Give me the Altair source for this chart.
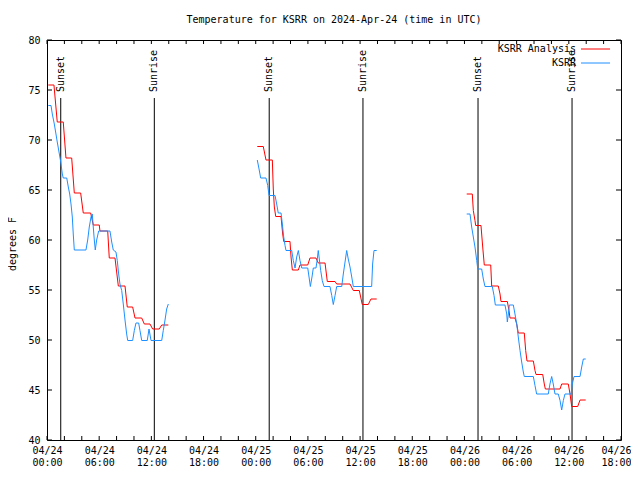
import altair as alt
import pandas as pd

FONT = "DejaVu Sans Mono"
TITLE = "Temperature for KSRR on 2024-Apr-24 (time in UTC)"
Y_TITLE = "degrees F"

# hours since 2024-04-24 00:00 UTC
ANA_H1 = [0.15, 0.80, 1.18, 1.87, 2.18, 2.84, 3.14, 3.87, 4.17, 5.02, 5.32, 6.01, 6.09, 6.98,
          7.16, 7.82, 8.20, 8.97, 9.23, 9.85, 10.12, 10.89, 11.19, 11.84, 12.15, 12.91, 13.19, 13.95]
ANA_T1 = [75.5, 75.5, 71.8, 71.8, 68.2, 68.2, 64.7, 64.7, 62.7, 62.7, 61.5, 61.5, 60.9, 60.9,
          58.2, 58.2, 55.4, 55.4, 53.3, 53.3, 52.2, 52.2, 51.6, 51.6, 51.1, 51.1, 51.5, 51.5]
ANA_H2 = [24.18, 24.87, 25.18, 25.91, 26.02, 26.14, 26.30, 26.91, 26.99, 27.10, 27.22, 27.94, 28.06,
          28.21, 28.90, 29.09, 29.98, 30.24, 30.93, 31.19, 31.97, 32.23, 33.12, 33.31, 34.84, 35.22,
          35.91, 36.25, 36.94, 37.25, 37.91]
ANA_T2 = [69.35, 69.35, 68.0, 68.0, 65.1, 63.3, 62.35, 62.35, 61.6, 60.6, 59.85, 59.85, 58.3,
          57.0, 57.0, 57.5, 57.5, 58.2, 58.2, 57.7, 57.7, 55.85, 55.85, 55.6, 55.6, 54.95,
          54.95, 53.55, 53.55, 54.1, 54.1]
ANA_H3 = [48.26, 48.90, 49.02, 49.21, 49.29, 49.90, 50.10, 50.28, 51.02, 51.13, 51.89, 52.09, 52.20,
          52.93, 53.12, 53.24, 53.81, 54.01, 54.19, 54.88, 55.04, 55.19, 55.92, 56.11, 56.23, 57.00,
          57.18, 57.30, 58.99, 59.18, 59.94, 60.14, 60.33, 61.02, 61.29, 61.94]
ANA_T3 = [64.6, 64.6, 62.95, 61.95, 61.45, 61.45, 59.3, 57.5, 57.5, 55.4, 55.4, 54.6, 53.85,
          53.85, 52.95, 52.2, 52.2, 51.6, 50.7, 50.7, 48.95, 47.9, 47.9, 46.95, 46.55, 46.55,
          45.6, 45.1, 45.1, 45.6, 45.6, 44.6, 43.35, 43.35, 44.0, 44.0]

OBS_H1 = [0.15, 0.46, 0.61, 0.84, 1.03, 1.18, 1.38, 1.58, 1.76, 1.87, 2.27, 2.45, 2.61, 2.76, 2.91,
          3.02, 3.14, 4.48, 4.68, 4.86, 5.06, 5.21, 5.32, 5.44, 5.55, 5.71, 5.94, 7.24, 7.44, 7.62,
          7.93, 8.08, 8.24, 8.39, 8.59, 8.77, 8.97, 9.16, 9.28, 9.85, 10.04, 10.23, 10.54, 10.69,
          10.89, 11.53, 11.73, 11.96, 13.19, 13.37, 13.57, 13.76, 13.95]
OBS_T1 = [73.45, 73.45, 72.6, 71.6, 70.6, 69.8, 68.8, 67.8, 66.6, 66.2, 66.2, 65.3, 64.6, 63.6, 62.3,
          60.6, 59.0, 59.0, 60.0, 61.3, 62.3, 62.6, 61.3, 60.0, 59.0, 60.0, 60.9, 60.9, 59.8, 59.0,
          58.8, 57.95, 56.6, 55.6, 54.95, 53.6, 52.0, 50.6, 49.95, 49.95, 50.95, 51.7, 51.7, 50.95,
          49.95, 49.95, 51.1, 49.95, 49.95, 50.95, 52.0, 53.1, 53.6]
OBS_H2 = [24.18, 24.38, 24.57, 25.18, 25.38, 25.53, 26.22, 26.41, 26.59, 26.91, 27.06, 27.22, 27.37,
          27.48, 28.14, 28.32, 28.52, 28.71, 28.90, 29.09, 29.29, 29.98, 30.13, 30.28, 30.47, 30.62,
          30.93, 31.08, 31.19, 31.31, 31.47, 31.65, 31.85, 32.54, 32.74, 32.92, 33.12, 33.31, 33.89,
          34.07, 34.27, 34.46, 34.64, 34.84, 35.04, 35.22, 37.33, 37.44, 37.60, 37.91]
OBS_T2 = [68.0, 67.1, 66.2, 66.2, 65.45, 64.45, 64.45, 63.6, 62.7, 62.7, 61.6, 60.3, 59.45,
          58.95, 58.95, 57.95, 57.2, 58.3, 58.95, 57.95, 57.2, 57.2, 56.3, 55.35, 56.3, 57.2,
          57.2, 58.1, 58.95, 58.1, 56.95, 55.95, 55.35, 55.35, 54.45, 53.55, 54.45, 55.35, 55.35,
          56.6, 57.8, 58.95, 58.1, 57.3, 56.3, 55.35, 55.35, 57.6, 58.95, 58.95]
OBS_H3 = [48.26, 48.64, 48.83, 49.02, 49.21, 49.41, 49.53, 49.98, 50.17, 50.36, 51.20, 51.40, 51.55,
          52.66, 52.86, 52.93, 53.05, 53.16, 53.62, 53.81, 54.01, 54.19, 54.39, 54.58, 54.77, 54.88,
          55.92, 56.11, 56.30, 57.64, 57.83, 58.03, 58.21, 58.41, 58.79, 58.99, 59.18, 59.37, 59.56,
          60.25, 60.40, 60.60, 61.29, 61.48, 61.67, 61.94]
OBS_T3 = [62.6, 62.6, 61.3, 60.3, 59.3, 57.95, 57.1, 57.1, 56.1, 55.35, 55.35, 54.45, 53.5,
          53.5, 52.6, 51.8, 52.6, 53.5, 53.5, 52.6, 51.6, 50.3, 48.95, 47.8, 46.8, 46.35,
          46.35, 45.45, 44.6, 44.6, 45.6, 46.35, 45.6, 44.6, 44.6, 43.95, 43.0, 43.95, 44.6,
          44.6, 45.6, 46.35, 46.35, 47.3, 48.1, 48.1]

SUN_H = [1.58, 12.34, 25.55, 36.33, 49.56, 60.37]
SUN_LABEL = ["Sunset", "Sunrise", "Sunset", "Sunrise", "Sunset", "Sunrise"]
SUN_LINE_TOP = 74.2
SUN_TEXT_Y = 74.8

X_TICKS = list(range(0, 67, 2))
X_LABELS = list(range(0, 67, 6))
Y_TICKS = list(range(40, 81, 5))

W, H = 574, 400


def series_df(pairs):
    rows = []
    for seg, (hs, ts) in enumerate(pairs):
        for h, t in zip(hs, ts):
            rows.append({"h": h, "T": t, "seg": seg})
    return pd.DataFrame(rows)


ana = series_df([(ANA_H1, ANA_T1), (ANA_H2, ANA_T2), (ANA_H3, ANA_T3)])
obs = series_df([(OBS_H1, OBS_T1), (OBS_H2, OBS_T2), (OBS_H3, OBS_T3)])
sun = pd.DataFrame({"h": SUN_H, "label": SUN_LABEL, "lo": 40.0,
                    "hi": SUN_LINE_TOP, "ty": SUN_TEXT_Y})

XS = alt.Scale(domain=[0, 66], nice=False, zero=False)
YS = alt.Scale(domain=[40, 80], nice=False, zero=False)

X_AXIS = alt.Axis(values=X_LABELS, tickSize=0, domain=False, grid=False, title=None,
                  labelExpr="['04/' + (24 + floor(datum.value / 24)), format(datum.value % 24, '02d') + ':00']",
                  labelFont=FONT, labelFontSize=10, labelColor="black", labelPadding=5,
                  labelLineHeight=12.5, labelBaseline="top", labelFlush=False, labelOverlap=False,
                  labelAlign={"condition": {"test": "datum.value >= 66", "value": "right"},
                              "value": "center"},
                  labelOffset={"condition": {"test": "datum.value >= 66", "value": 10},
                               "value": 0})
Y_AXIS = alt.Axis(values=Y_TICKS, tickSize=0, domain=False, grid=False, title=None,
                  labelFont=FONT, labelFontSize=10, labelColor="black", labelPadding=7)

x_enc = alt.X("h:Q", scale=XS, axis=X_AXIS)

sun_lines = alt.Chart(sun).mark_rule(color="black", strokeWidth=1).encode(
    x=x_enc, y=alt.Y("lo:Q", scale=YS, axis=Y_AXIS), y2="hi:Q")
sun_text = alt.Chart(sun).mark_text(angle=270, align="left", baseline="middle",
                                    font=FONT, fontSize=10, color="black").encode(
    x=x_enc, y=alt.Y("ty:Q", scale=YS, axis=Y_AXIS), text="label:N")

red = alt.Chart(ana).mark_line(color="#ff0000", strokeWidth=1).encode(
    x=x_enc, y=alt.Y("T:Q", scale=YS, axis=Y_AXIS), detail="seg:N")
blue = alt.Chart(obs).mark_line(color="#1e90ff", strokeWidth=1).encode(
    x=x_enc, y=alt.Y("T:Q", scale=YS, axis=Y_AXIS), detail="seg:N")

xt = pd.DataFrame({"h": X_TICKS})
yt = pd.DataFrame({"T": Y_TICKS})
xtick_b = alt.Chart(xt).mark_rule(color="black").encode(
    x=x_enc, y=alt.value(H), y2=alt.value(H - 4))
xtick_t = alt.Chart(xt).mark_rule(color="black").encode(
    x=x_enc, y=alt.value(0), y2=alt.value(4))
ytick_l = alt.Chart(yt).mark_rule(color="black").encode(
    y=alt.Y("T:Q", scale=YS, axis=Y_AXIS), x=alt.value(0), x2=alt.value(5))
ytick_r = alt.Chart(yt).mark_rule(color="black").encode(
    y=alt.Y("T:Q", scale=YS, axis=Y_AXIS), x=alt.value(W), x2=alt.value(W - 5))

txt = pd.DataFrame({"t": [TITLE], "y": [Y_TITLE]})
title = alt.Chart(txt).mark_text(font=FONT, fontSize=10, align="center", baseline="middle",
                                 color="black").encode(
    x=alt.value(287), y=alt.value(-20), text="t:N")
ytitle = alt.Chart(txt).mark_text(font=FONT, fontSize=10, align="center", baseline="middle",
                                  angle=270, color="black").encode(
    x=alt.value(-34), y=alt.value(204), text="y:N")

leg = pd.DataFrame({"name": ["KSRR Analysis", "KSRR"], "col": ["#ff0000", "#1e90ff"],
                    "yy": [9, 23]})
leg_text = alt.Chart(leg).mark_text(font=FONT, fontSize=10, align="right", baseline="middle",
                                    color="black").encode(
    x=alt.value(529), y=alt.Y("yy:Q", scale=None), text="name:N")
leg_line = alt.Chart(leg).mark_rule(strokeWidth=1).encode(
    x=alt.value(534), x2=alt.value(563), y=alt.Y("yy:Q", scale=None),
    color=alt.Color("col:N", scale=None))

chart = alt.layer(
    sun_lines, red, blue, sun_text, xtick_b, xtick_t, ytick_l, ytick_r,
    title, ytitle, leg_text, leg_line
).properties(
    width=W, height=H,
    padding={"left": 39, "top": 32, "right": 10, "bottom": 28},
    autosize=alt.AutoSizeParams(type="none"),
    background="white",
).configure_view(stroke="black", strokeWidth=1)

chart.save("out.html", embed_options={"renderer": "svg", "actions": False})
